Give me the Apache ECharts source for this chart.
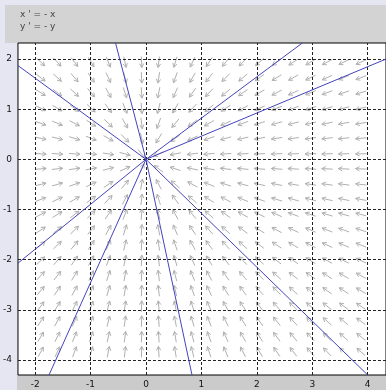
<!DOCTYPE html>
<html>
<head>
<meta charset="utf-8">
<script src="https://cdn.jsdelivr.net/npm/echarts@6/dist/echarts.min.js"></script>
<style>
  html, body { margin: 0; padding: 0; background: #e6e6f2; }
  #chart { width: 386px; height: 390px; }
</style>
</head>
<body>
<div id="chart"></div>
<script>
// System: x' = -x, y' = -y (stable star node at the origin)
const titleLines = ["x ' = - x", "y ' = - y"];

// Tick values shown on the axes
const xTicks = [-2, -1, 0, 1, 2, 3, 4];
const yTicks = [-4, -3, -2, -1, 0, 1, 2];

// Visible window
const xRange = [-2.31, 4.33];
const yRange = [-4.30, 2.32];

// Direction-field sample positions
const arrowCols = [-1.90, -1.60, -1.29, -0.99, -0.68, -0.38, -0.08, 0.23, 0.53, 0.84,
                   1.14, 1.44, 1.75, 2.05, 2.36, 2.66, 2.97, 3.27, 3.57, 3.88];
const arrowRows = [-3.84, -3.54, -3.23, -2.93, -2.62, -2.32, -2.02, -1.71, -1.41, -1.10,
                   -0.80, -0.50, -0.19, 0.11, 0.42, 0.72, 1.02, 1.33, 1.63, 1.94];

// Where each computed trajectory leaves the window (all run straight into the origin)
const trajEndX = [-2.31, -0.55, 2.82, 4.33, 4.00, 0.83, -1.75, -2.31];
const trajEndY = [1.87, 2.32, 2.32, 2.00, -4.30, -4.30, -4.30, -2.07];

// Vector field
function field(x, y) { return [-x, -y]; }

const arrowData = [];
arrowRows.forEach(y => arrowCols.forEach(x => arrowData.push([x, y])));

const trajSeries = trajEndX.map((x, i) => ({
  type: 'line',
  data: [[0, 0], [x, trajEndY[i]]],
  showSymbol: false,
  symbol: 'none',
  silent: true,
  z: 5,
  lineStyle: { color: '#4444bb', width: 1 },
  animation: false
}));

const gridLineStyle = { color: '#222', width: 1, type: [3, 2] };

const chart = echarts.init(document.getElementById('chart'), null, { renderer: 'canvas' });
chart.setOption({
  animation: false,
  backgroundColor: '#e6e6f2',
  graphic: [
    { type: 'rect', z: -10, shape: { x: 5, y: 5, width: 381, height: 38 }, style: { fill: '#d3d3d3' } },
    { type: 'rect', z: -10, shape: { x: 17, y: 375, width: 369, height: 15 }, style: { fill: '#cbcbcb' } },
    { type: 'text', left: 20, top: 10, style: { text: titleLines[0], font: '9px "DejaVu Sans"', fill: '#444' } },
    { type: 'text', left: 20, top: 22, style: { text: titleLines[1], font: '9px "DejaVu Sans"', fill: '#444' } }
  ],
  grid: {
    left: 17, top: 43, right: -2, bottom: 15,
    show: true, backgroundColor: '#ffffff', borderColor: '#000', borderWidth: 1
  },
  xAxis: {
    type: 'value', min: xRange[0], max: xRange[1],
    axisLine: { show: false }, axisTick: { show: false }, splitLine: { show: false },
    axisLabel: {
      customValues: xTicks, color: '#111', fontSize: 9, fontFamily: 'DejaVu Sans', margin: 5,
      showMinLabel: true, showMaxLabel: true
    }
  },
  yAxis: {
    type: 'value', min: yRange[0], max: yRange[1],
    axisLine: { show: false }, axisTick: { show: false }, splitLine: { show: false },
    axisLabel: {
      customValues: yTicks, color: '#111', fontSize: 9, fontFamily: 'DejaVu Sans', margin: 6,
      showMinLabel: true, showMaxLabel: true
    }
  },
  series: [
    {
      // dashed grid at the tick values
      type: 'line', data: [], silent: true, z: 2,
      markLine: {
        silent: true, symbol: ['none', 'none'], label: { show: false },
        lineStyle: gridLineStyle, animation: false,
        data: xTicks.map(v => ({ xAxis: v })).concat(yTicks.map(v => ({ yAxis: v })))
      }
    },
    {
      // direction field arrows
      type: 'custom', silent: true, z: 3,
      data: arrowData,
      renderItem: function (params, api) {
        const x = api.value(0), y = api.value(1);
        const f = field(x, y);
        const h = 0.01;
        const p = api.coord([x, y]);
        const q = api.coord([x + f[0] * h, y + f[1] * h]);
        let dx = q[0] - p[0], dy = q[1] - p[1];
        const n = Math.hypot(dx, dy) || 1;
        dx /= n; dy /= n;
        const L = 11, head = 4.5, ang = 0.5;
        const tail = [p[0] - dx * L / 2, p[1] - dy * L / 2];
        const tip = [p[0] + dx * L / 2, p[1] + dy * L / 2];
        const c = Math.cos(ang), s = Math.sin(ang);
        const b1 = [tip[0] - head * (dx * c - dy * s), tip[1] - head * (dy * c + dx * s)];
        const b2 = [tip[0] - head * (dx * c + dy * s), tip[1] - head * (dy * c - dx * s)];
        const st = { stroke: '#b0b0b0', lineWidth: 1, fill: null };
        return {
          type: 'group',
          children: [
            { type: 'line', shape: { x1: tail[0], y1: tail[1], x2: tip[0], y2: tip[1] }, style: st },
            { type: 'polyline', shape: { points: [b1, tip, b2] }, style: st }
          ]
        };
      }
    }
  ].concat(trajSeries)
});
</script>
</body>
</html>
